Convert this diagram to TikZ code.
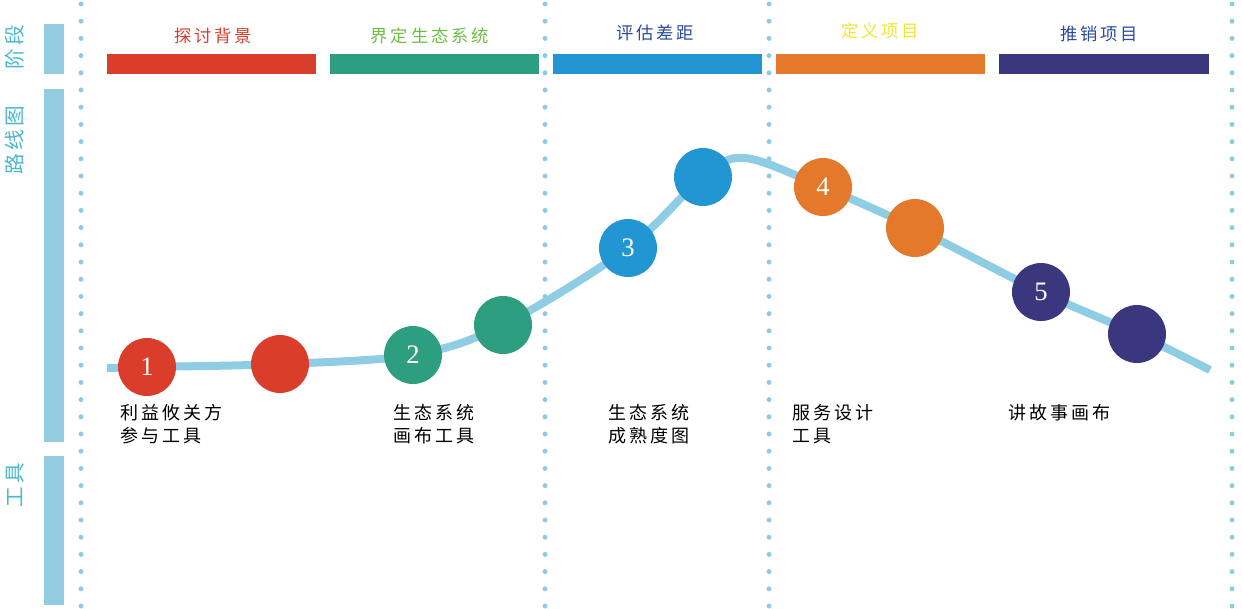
\documentclass[tikz,border=0pt]{standalone}
\usepackage{fontspec}
\setmainfont{Noto Sans CJK SC}
\newfontfamily\numfont{Liberation Serif}
\definecolor{barblue}{HTML}{93CCE1}
\definecolor{sidetext}{HTML}{4BB8D0}
\definecolor{dotblue}{HTML}{8DCBE3}
\definecolor{roadblue}{HTML}{8ECDE3}
\definecolor{phred}{HTML}{DA3D2A}
\definecolor{phgreen}{HTML}{2E9E80}
\definecolor{phblue}{HTML}{2196D2}
\definecolor{phorange}{HTML}{E4782B}
\definecolor{phnavy}{HTML}{3B377F}
\tikzset{
  sidebar/.style={fill=barblue, draw=none},
  sidelabel/.style={rotate=90, text=sidetext, font=\fontsize{15.5}{15.5}\selectfont},
  phasebar/.style={draw=none, minimum width=157pt, minimum height=15pt, inner sep=0pt},
  phasetitle/.style={font=\fontsize{13}{14}\selectfont},
  stop/.style={circle, minimum size=43.5pt, inner sep=0pt, text=white, font=\numfont\fontsize{20}{20}\selectfont},
  tooltext/.style={anchor=north west, align=left, inner sep=0pt, font=\fontsize{13.5}{17}\selectfont},
  dotline/.style={dotblue, line width=3.7pt, line cap=round, dash pattern=on 0pt off 12.9pt}
}
\begin{document}
\begin{tikzpicture}[x=0.75pt, y=-0.75pt]
    \useasboundingbox (0,0) rectangle (1242,608);
    % dotted separators
    \foreach \xx in {81,545,769,1232}
        \draw[dotline] (\xx,4) -- (\xx,606);
    % left column
    \fill[sidebar] (44,24) rectangle (64,74);
    \fill[sidebar] (44,89) rectangle (64,442);
    \fill[sidebar] (44,456) rectangle (64,605);
    \node at (15,47) (lblphase) [sidelabel] {阶\,段};
    \node at (15,140) (lblroad) [sidelabel] {路\,线\,图};
    \node at (15,485) (lbltool) [sidelabel] {工\,具};
    % phase bars and titles
    \node at (211.5,64) (bar1) [phasebar, fill=phred] {};
    \node at (434.5,64) (bar2) [phasebar, fill=phgreen] {};
    \node at (657.5,64) (bar3) [phasebar, fill=phblue] {};
    \node at (880.5,64) (bar4) [phasebar, fill=phorange] {};
    \node at (1104,64) (bar5) [phasebar, fill=phnavy] {};
    \node at (213,36) (ttl1) [phasetitle, text=phred] {探\,讨\,背\,景};
    \node at (430,36) (ttl2) [phasetitle, text={rgb,255:red,109;green,190;blue,69}] {界\,定\,生\,态\,系\,统};
    \node at (655,33) (ttl3) [phasetitle, text={rgb,255:red,43;green,74;blue,158}] {评\,估\,差\,距};
    \node at (880,31) (ttl4) [phasetitle, text={rgb,255:red,242;green,229;blue,42}] {定\,义\,项\,目};
    \node at (1099,34) (ttl5) [phasetitle, text={rgb,255:red,46;green,74;blue,158}] {推\,销\,项\,目};
    % road
    \coordinate (start) at (107,368);
    \coordinate (peak) at (745,158);
    \coordinate (finish) at (1210,370);
    \coordinate (p1) at (147,367);
    \coordinate (p2) at (280,364);
    \coordinate (p3) at (413,355);
    \coordinate (p4) at (503,325);
    \coordinate (p5) at (628,248);
    \coordinate (p6) at (703,177);
    \coordinate (p7) at (823,187);
    \coordinate (p8) at (915,228);
    \coordinate (p9) at (1041,292);
    \coordinate (p10) at (1137,334);
    \draw[roadblue, line width=6pt] plot[smooth, tension=0.55] coordinates
        {(start) (p1) (p2) (p3) (p4) (p5) (p6) (peak) (p7) (p8) (p9) (p10) (finish)};
    % stops
    \node at (p1) (s1) [stop, fill=phred] {1};
    \node at (p2) (s1b) [stop, fill=phred] {};
    \node at (p3) (s2) [stop, fill=phgreen] {2};
    \node at (p4) (s2b) [stop, fill=phgreen] {};
    \node at (p5) (s3) [stop, fill=phblue] {3};
    \node at (p6) (s3b) [stop, fill=phblue] {};
    \node at (p7) (s4) [stop, fill=phorange] {4};
    \node at (p8) (s4b) [stop, fill=phorange] {};
    \node at (p9) (s5) [stop, fill=phnavy] {5};
    \node at (p10) (s5b) [stop, fill=phnavy] {};
    % tools
    \node at (120,404) (tool1) [tooltext] {利\,益\,攸\,关\,方\\参\,与\,工\,具};
    \node at (393,404) (tool2) [tooltext] {生\,态\,系\,统\\画\,布\,工\,具};
    \node at (608,404) (tool3) [tooltext] {生\,态\,系\,统\\成\,熟\,度\,图};
    \node at (792,404) (tool4) [tooltext] {服\,务\,设\,计\\工\,具};
    \node at (1008,404) (tool5) [tooltext] {讲\,故\,事\,画\,布};
\end{tikzpicture}
\end{document}
